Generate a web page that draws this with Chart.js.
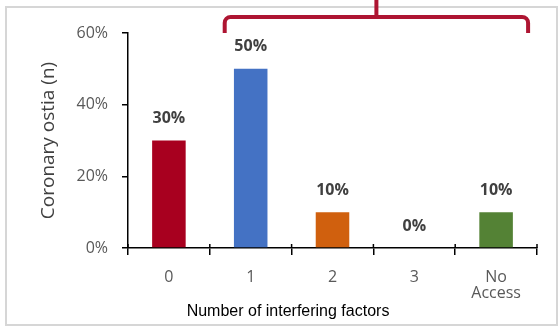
<!DOCTYPE html>
<html>
<head>
<meta charset="utf-8">
<script src="https://cdn.jsdelivr.net/npm/chart.js@4/dist/chart.umd.min.js"></script>
<style>
  html, body { margin: 0; padding: 0; background: #fff; }
  #wrap { width: 560px; height: 327px; }
</style>
</head>
<body>
<div id="wrap"><canvas id="grafica" width="560" height="327"></canvas></div>
<script>
// categorias y valores
const categorias = ['0', '1', '2', '3', ['No', 'Access']];
const porcentajes = [0.30, 0.50, 0.10, 0.00, 0.10];
const colores = ['#A8001F', '#4472C4', '#D0600E', '#A8001F', '#548235'];
const ticksY = [0, 0.2, 0.4, 0.6];

const fuente = "'Open Sans', 'DejaVu Sans', sans-serif";

// marco, llave de arriba, etiquetas de valor y titulo del eje x
const extras = {
    id: 'extras',
    afterDraw(chart) {
        const ctx = chart.ctx;
        const x = chart.scales.x;
        const y = chart.scales.y;
        ctx.save();

        // marco gris
        ctx.strokeStyle = '#d6d6d6';
        ctx.lineWidth = 2;
        ctx.strokeRect(6, 7, 551, 318);

        // marcas cruzadas del eje x
        ctx.strokeStyle = '#000';
        ctx.lineWidth = 1.5;
        const paso = (x.right - x.left) / categorias.length;
        for (let i = 0; i <= categorias.length; i++) {
            const px = x.left + i * paso;
            ctx.beginPath();
            ctx.moveTo(px, y.bottom - 4);
            ctx.lineTo(px, y.bottom);
            ctx.stroke();
        }

        // valores encima de cada barra
        ctx.fillStyle = '#404040';
        ctx.font = "bold 16px " + fuente;
        ctx.textAlign = 'center';
        ctx.textBaseline = 'bottom';
        chart.getDatasetMeta(0).data.forEach((bar, i) => {
            ctx.fillText(Math.round(porcentajes[i] * 100) + '%', bar.x, bar.y - 14);
        });

        // llave roja sobre las categorias 1 a No Access
        const izq = x.getPixelForValue(1) - 26;
        const der = x.getPixelForValue(4) + 32;
        const medio = (izq + der) / 2;
        const alto = 17, bajo = 33, r = 6;
        ctx.strokeStyle = '#AE1532';
        ctx.lineWidth = 4;
        ctx.lineCap = 'butt';
        ctx.beginPath();
        ctx.moveTo(izq, bajo);
        ctx.lineTo(izq, alto + r);
        ctx.arcTo(izq, alto, izq + r, alto, r);
        ctx.lineTo(der - r, alto);
        ctx.arcTo(der, alto, der, alto + r, r);
        ctx.lineTo(der, bajo);
        ctx.stroke();
        ctx.beginPath();
        ctx.moveTo(medio, alto);
        ctx.lineTo(medio, 0);
        ctx.stroke();

        // titulo del eje x
        ctx.fillStyle = '#000';
        ctx.font = "16px 'Liberation Sans', Arial, sans-serif";
        ctx.textBaseline = 'middle';
        ctx.fillText('Number of interfering factors', 288, 312);
        ctx.restore();
    }
};

const datos = {
    labels: categorias,
    datasets: [{
        label: 'Coronary ostia',
        data: porcentajes,
        backgroundColor: colores,
        borderWidth: 0,
        barPercentage: 0.41,
        categoryPercentage: 1
    }]
};

const config = {
    type: 'bar',
    data: datos,
    options: {
        responsive: false,
        animation: false,
        layout: { padding: { top: 33, right: 23, bottom: 0, left: 0 } },
        plugins: { legend: { display: false }, tooltip: { enabled: false } },
        scales: {
            x: {
                afterFit: (s) => { s.height = 79; },
                grid: { display: true, offset: true, drawOnChartArea: false, tickLength: 7, color: '#000', lineWidth: 1.5 },
                border: { display: true, color: '#000', width: 1.5 },
                ticks: {
                    color: '#595959',
                    padding: 14,
                    font: { family: fuente, size: 16, lineHeight: 1.0 }
                }
            },
            y: {
                min: 0,
                max: 0.6,
                afterFit: (s) => { s.width = 128; },
                afterBuildTicks: (s) => { s.ticks = ticksY.map(v => ({ value: v })); },
                grid: { display: true, drawOnChartArea: false, tickLength: 6, color: '#000', lineWidth: 1.5 },
                border: { display: true, color: '#000', width: 1.5 },
                ticks: {
                    color: '#595959',
                    padding: 14,
                    font: { family: fuente, size: 16 },
                    callback: (v) => Math.round(v * 100) + '%'
                },
                title: {
                    display: true,
                    text: 'Coronary ostia (n)',
                    color: '#404040',
                    padding: { top: 37, bottom: 0 },
                    font: { family: fuente, size: 19 }
                }
            }
        }
    },
    plugins: [extras]
};

new Chart(document.getElementById('grafica'), config);
</script>
</body>
</html>
